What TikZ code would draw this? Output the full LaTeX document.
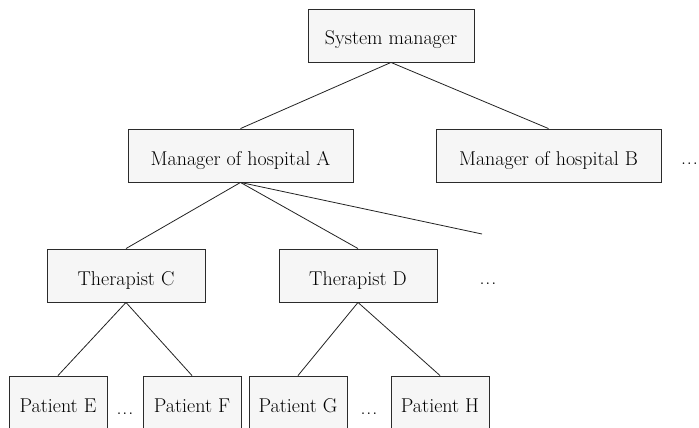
\documentclass[tikz,border=0pt]{standalone}
\definecolor{boxfill}{HTML}{F6F6F6}
\definecolor{boxline}{HTML}{2B2B2B}
\definecolor{linkcol}{HTML}{222222}
\newcommand{\moredots}{.\kern0.04em.\kern0.04em.}
\begin{document}
\begin{tikzpicture}[x=1pt,y=-1pt,
  label font/.style={font=\fontsize{20}{24}\selectfont, text=black},
  box/.style={draw=boxline, fill=boxfill, line width=0.9pt, inner sep=0pt,
    minimum height=53pt, text height=19pt, text depth=0pt, label font},
  link/.style={draw=linkcol, line width=0.8pt},
  more/.style={inner sep=0pt, label font, anchor=base}]
\useasboundingbox (0,0) rectangle (699,428);
\clip (0,0) rectangle (699,428);
% top level
\node[box, minimum width=166pt] (sys) at (391,35.5) {System manager};
% hospital managers
\node[box, minimum width=225pt] (ha) at (240.5,155.5) {Manager of hospital A};
\node[box, minimum width=225pt] (hb) at (548.5,155.5) {Manager of hospital B};
\node[inner sep=0pt, label font, anchor=base east] (mh) at (698,164) {\moredots};
% therapists
\node[box, minimum width=158pt] (tc) at (126,275.5) {Therapist C};
\node[box, minimum width=158pt] (td) at (358,275.5) {Therapist D};
\node[more] (mt) at (488,284) {\moredots};
\coordinate (tx) at (482,234);
% patients
\node[box, minimum width=98pt] (pe) at (58,402.5) {Patient E};
\node[box, minimum width=98pt] (pf) at (192,402.5) {Patient F};
\node[box, minimum width=98pt] (pg) at (298,402.5) {Patient G};
\node[box, minimum width=98pt] (ph) at (440,402.5) {Patient H};
\node[more] (mp1) at (125,414) {\moredots};
\node[more] (mp2) at (369,414) {\moredots};
% connectors
\draw[link] (sys.south) -- (ha.north);
\draw[link] (sys.south) -- (hb.north);
\draw[link] (ha.south) -- (tc.north);
\draw[link] (ha.south) -- (td.north);
\draw[link] (ha.south) -- (tx);
\draw[link] (tc.south) -- (pe.north);
\draw[link] (tc.south) -- (pf.north);
\draw[link] (td.south) -- (pg.north);
\draw[link] (td.south) -- (ph.north);
\end{tikzpicture}
\end{document}
